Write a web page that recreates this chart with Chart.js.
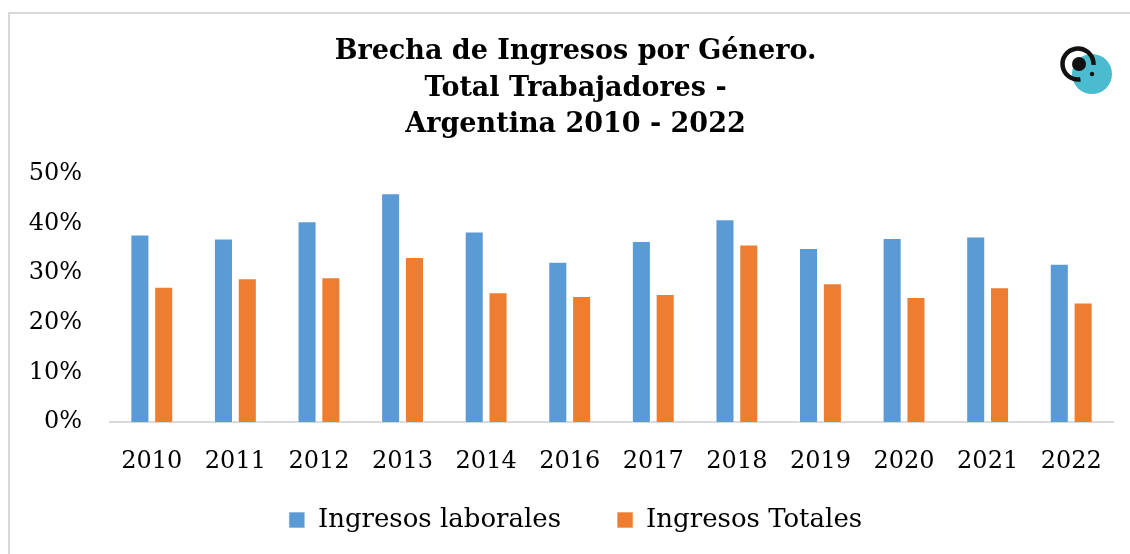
<!DOCTYPE html>
<html>
<head>
<meta charset="utf-8">
<script src="https://cdn.jsdelivr.net/npm/chart.js@4/dist/chart.umd.min.js"></script>
<style>
    html, body { margin: 0; padding: 0; background: #ffffff; overflow: hidden; }
    #frame {
        position: absolute; left: 8px; top: 12px; width: 1200px; height: 700px;
        border-left: 2px solid #d9d9d9; border-top: 2px solid #d9d9d9;
    }
    #wrap { position: absolute; left: 0; top: 0; width: 1130px; height: 554px; }
</style>
</head>
<body>
<div id="frame"></div>
<div id="wrap"><canvas id="brechaChart"></canvas></div>
<script>
"use strict";

// Years shown on the x axis (2015 is missing in the source)
const years = ['2010', '2011', '2012', '2013', '2014', '2016', '2017', '2018', '2019', '2020', '2021', '2022'];

// Gap in percent
const ingresosLaborales = [37.8, 37.0, 40.5, 46.1, 38.4, 32.3, 36.5, 40.9, 35.1, 37.1, 37.4, 31.9];
const ingresosTotales = [27.3, 29.0, 29.2, 33.3, 26.2, 25.4, 25.8, 35.8, 28.0, 25.2, 27.2, 24.1];

const yTicks = [0, 10, 20, 30, 40, 50];

const serif = "'DejaVu Serif', serif";

// Title and legend are centred a bit right of the plot, and the legend sits
// closer to the axis labels than its padding would allow
const placeBlocks = {
    id: 'placeBlocks',
    afterLayout(chart) {
        chart.titleBlock.left = 38;
        chart.legend.left = 38;
        chart.legend.top = 451;
        chart.legend.bottom = 554;
    }
};

// Small round logo in the top right corner
const logoPlugin = {
    id: 'logo',
    afterDraw(chart) {
        const ctx = chart.ctx;
        ctx.save();
        ctx.fillStyle = '#4bbccf';
        ctx.beginPath();
        ctx.arc(1092, 74, 20, 0, Math.PI * 2);
        ctx.fill();
        ctx.strokeStyle = '#111111';
        ctx.lineWidth = 4.5;
        ctx.beginPath();
        ctx.arc(1078, 64, 15.5, Math.PI * 0.45, Math.PI * 2.02);
        ctx.stroke();
        ctx.fillStyle = '#111111';
        ctx.beginPath();
        ctx.arc(1079, 64, 7, 0, Math.PI * 2);
        ctx.fill();
        ctx.beginPath();
        ctx.arc(1092, 74, 2.2, 0, Math.PI * 2);
        ctx.fill();
        ctx.restore();
    }
};

const ctx = document.getElementById('brechaChart');
new Chart(ctx, {
    type: 'bar',
    data: {
        labels: years,
        datasets: [
            {
                label: 'Ingresos laborales',
                data: ingresosLaborales,
                backgroundColor: '#5b9bd5',
                borderColor: 'rgba(255, 255, 255, 0.6)',
                borderWidth: 1,
                categoryPercentage: 0.57,
                barPercentage: 0.8
            },
            {
                label: 'Ingresos Totales',
                data: ingresosTotales,
                backgroundColor: '#ed7d31',
                borderColor: 'rgba(255, 255, 255, 0.6)',
                borderWidth: 1,
                categoryPercentage: 0.57,
                barPercentage: 0.8
            }
        ]
    },
    options: {
        responsive: true,
        maintainAspectRatio: false,
        animation: false,
        layout: {
            padding: { left: 22, right: 17, top: 0, bottom: 0 }
        },
        plugins: {
            title: {
                display: true,
                text: ['Brecha de Ingresos por Género.', 'Total Trabajadores -', 'Argentina 2010 - 2022'],
                color: '#000000',
                font: { family: serif, size: 27, weight: 'bold', lineHeight: 1.37 },
                padding: { top: 33, bottom: 30 }
            },
            legend: {
                position: 'bottom',
                maxHeight: 53,
                labels: {
                    color: '#000000',
                    font: { family: serif, size: 26 },
                    boxWidth: 16,
                    boxHeight: 16,
                    padding: 56
                }
            },
            tooltip: { enabled: false }
        },
        scales: {
            x: {
                grid: { display: false, drawTicks: false },
                border: { display: true, color: '#d9d9d9', width: 2 },
                ticks: {
                    color: '#000000',
                    font: { family: serif, size: 24 },
                    padding: 25,
                    maxRotation: 0
                }
            },
            y: {
                min: 0,
                max: 50,
                afterFit(scale) { scale.width = 88; },
                afterBuildTicks(scale) { scale.ticks = yTicks.map(v => ({ value: v })); },
                grid: { display: false, drawTicks: false },
                border: { display: false },
                ticks: {
                    color: '#000000',
                    font: { family: serif, size: 24 },
                    padding: 28,
                    callback: v => v + '%'
                }
            }
        }
    },
    plugins: [placeBlocks, logoPlugin]
});
</script>
</body>
</html>
